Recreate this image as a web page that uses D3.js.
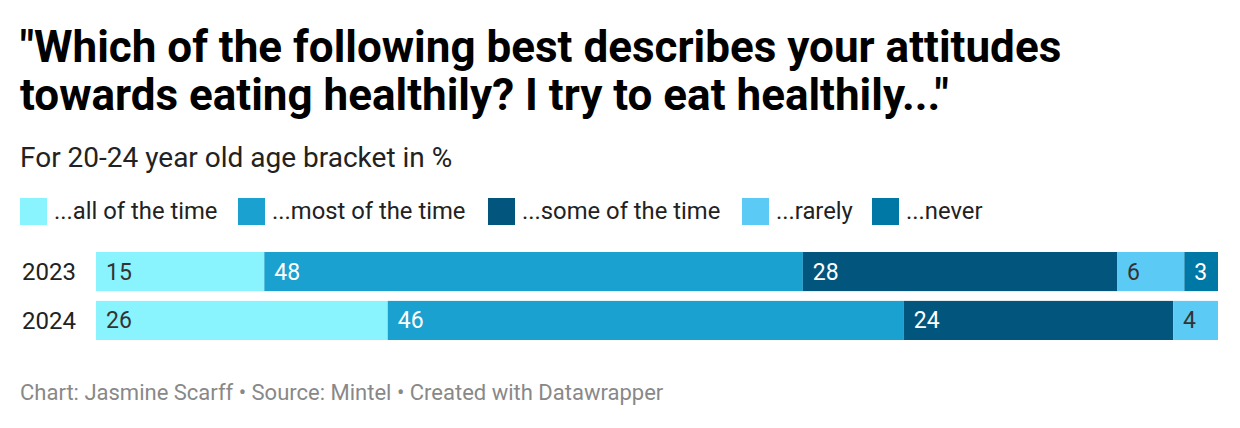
<!DOCTYPE html>
<html><head><meta charset="utf-8">
<script src="https://cdn.jsdelivr.net/npm/d3@7"></script>
<style>
body{margin:0;background:#fff;}
svg{display:block;font-family:Roboto,sans-serif;}
</style></head>
<body>
<svg id="chart" width="1240" height="428"></svg>
<script>
const years = ["2023", "2024"];
const categories = ["...all of the time", "...most of the time", "...some of the time", "...rarely", "...never"];
const colors = ["#8af4fe", "#1aa1cf", "#02557c", "#5bcbf5", "#0078a5"];
const labelColors = ["#333333", "#ffffff", "#ffffff", "#333333", "#ffffff"];
const values2023 = [15, 48, 28, 6, 3];
const values2024 = [26, 46, 24, 4, 0];
const seriesValues = [values2023, values2024];
const titleLines = ["\"Which of the following best describes your attitudes", "towards eating healthily? I try to eat healthily...\""];
const subtitle = "For 20-24 year old age bracket in %";
const footer = "Chart: Jasmine Scarff \u2022 Source: Mintel \u2022 Created with Datawrapper";

const svg = d3.select("#chart");

svg.selectAll("text.title").data(titleLines).join("text")
  .attr("class", "title")
  .attr("x", 20).attr("y", (d, i) => 62 + i * 47.5)
  .attr("font-size", 44).attr("font-weight", 700).attr("fill", "#000")
  .text(d => d);

svg.append("text").attr("x", 20).attr("y", 167)
  .attr("font-size", 28).attr("fill", "#222").text(subtitle);

// legend
const legendX = [20, 238, 488, 742, 872];
const lg = svg.selectAll("g.leg").data(categories).join("g")
  .attr("class", "leg")
  .attr("transform", (d, i) => `translate(${legendX[i]},198)`);
lg.append("rect").attr("width", 27).attr("height", 27).attr("fill", (d, i) => colors[i]);
lg.append("text").attr("x", 34).attr("y", 21).attr("font-size", 23.8).attr("fill", "#222").text(d => d);

// bars
const x = d3.scaleLinear().domain([0, 100]).range([96, 1218]);
const y = d3.scaleBand().domain(years).range([252, 340]).paddingInner(0.2);

const rows = svg.selectAll("g.row").data(years).join("g").attr("class", "row");
rows.append("text").attr("x", 22).attr("y", d => y(d) + y.bandwidth() / 2)
  .attr("dy", "0.35em").attr("font-size", 24).attr("fill", "#222").text(d => d);

years.forEach((yr, r) => {
  const vals = seriesValues[r];
  let cum = 0;
  const segs = vals.map((v, i) => { const s = { v, i, x0: cum, x1: cum + v }; cum += v; return s; }).filter(s => s.v > 0);
  const g = svg.append("g");
  g.selectAll("rect").data(segs).join("rect")
    .attr("x", d => x(d.x0)).attr("width", d => x(d.x1) - x(d.x0))
    .attr("y", y(yr)).attr("height", y.bandwidth())
    .attr("fill", d => colors[d.i]);
  g.selectAll("text").data(segs).join("text")
    .attr("x", d => x(d.x0) + 10).attr("y", y(yr) + y.bandwidth() / 2)
    .attr("dy", "0.35em").attr("font-size", 23).attr("fill", d => labelColors[d.i])
    .text(d => d.v);
});

svg.append("text").attr("x", 20).attr("y", 400)
  .attr("font-size", 22).attr("fill", "#888").text(footer);
</script>
</body></html>
